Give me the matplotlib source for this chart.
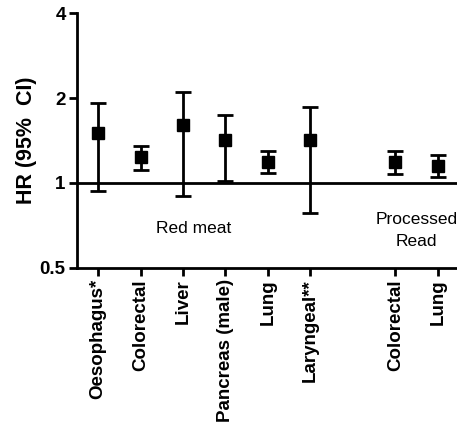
import matplotlib.pyplot as plt
from matplotlib.ticker import FixedLocator, NullLocator

labels = ['Oesophagus*', 'Colorectal', 'Liver', 'Pancreas (male)', 'Lung',
          'Laryngeal**', 'Colorectal', 'Lung']
positions = [0, 1, 2, 3, 4, 5, 7, 8]
hr = [1.50, 1.24, 1.60, 1.42, 1.19, 1.42, 1.19, 1.15]
ci_low = [0.94, 1.11, 0.90, 1.02, 1.085, 0.78, 1.076, 1.05]
ci_high = [1.92, 1.35, 2.10, 1.74, 1.30, 1.86, 1.30, 1.26]

plt.rcParams['font.family'] = ['Liberation Sans', 'DejaVu Sans']

fig = plt.figure(figsize=(4.57, 4.37), dpi=100)
ax = fig.add_axes([0.168, 0.387, 0.832, 0.583])

yerr = [[h - l for h, l in zip(hr, ci_low)], [u - h for h, u in zip(hr, ci_high)]]
ax.errorbar(positions, hr, yerr=yerr, fmt='s', color='black', markersize=8.5,
            elinewidth=2, capsize=6, capthick=2)
ax.axhline(1, color='black', linewidth=2)

ax.set_yscale('log')
ax.set_ylim(0.5, 4)
ax.yaxis.set_major_locator(FixedLocator([0.5, 1, 2, 4]))
ax.yaxis.set_minor_locator(NullLocator())
ax.set_yticklabels(['0.5', '1', '2', '4'], fontweight='bold', fontsize=13.5)
ax.set_xlim(-0.5, 8.45)
ax.set_xticks(positions)
ax.set_xticklabels(labels, rotation=90, fontweight='bold', fontsize=13.5)
ax.set_ylabel('HR (95%  CI)', fontweight='bold', fontsize=15.5, labelpad=2)

for side in ['top', 'right']:
    ax.spines[side].set_visible(False)
for side in ['left', 'bottom']:
    ax.spines[side].set_linewidth(2)
ax.tick_params(width=2, length=6, pad=2)

ax.text(2.25, 0.69, 'Red meat', ha='center', va='center', fontsize=12.5)
ax.text(7.5, 0.68, 'Processed\nRead', ha='center', va='center', fontsize=12.5,
        linespacing=1.55)

fig.savefig('out.png', dpi=100)
